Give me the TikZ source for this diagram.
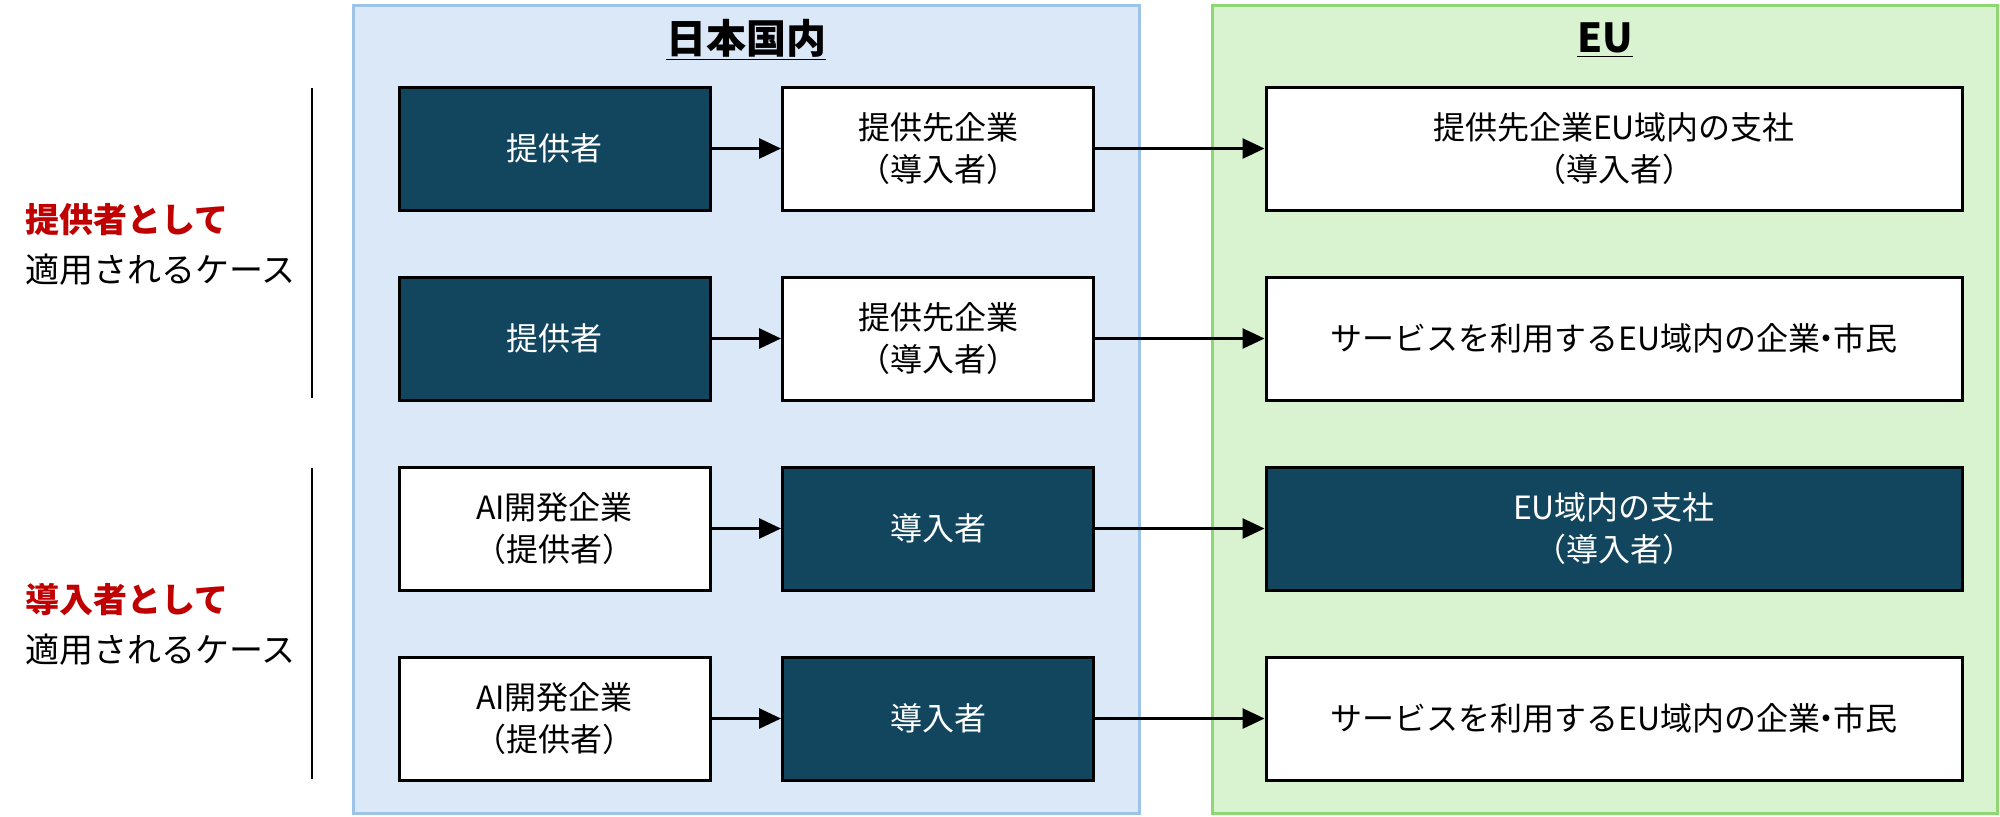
\documentclass[tikz,border=0pt]{standalone}
\usepackage{fontspec}
\setmainfont{Noto Sans CJK JP}
\usetikzlibrary{arrows.meta}
\definecolor{dk}{HTML}{12465E}
\definecolor{bluefill}{HTML}{DAE8F7}
\definecolor{blueline}{HTML}{9DC3E6}
\definecolor{greenfill}{HTML}{D9F2D0}
\definecolor{greenline}{HTML}{8ED873}
\definecolor{redtxt}{HTML}{C00000}
\newcommand{\mydot}{\kern-0.3em・\kern-0.3em}
\begin{document}
\begin{tikzpicture}[x=0.5pt,y=-0.5pt,
  box/.style={draw=black,line width=1.5pt,minimum height=61.5pt,inner sep=0pt,align=center,font=\fontsize{16}{21}\selectfont},
  smallbox/.style={box,minimum width=155.5pt},
  widebox/.style={box,minimum width=348pt},
  dkfill/.style={fill=dk,text=white},
  wfill/.style={fill=white,text=black},
  arr/.style={-{Triangle[length=11pt,width=10pt]},line width=1.4pt},
  panel/.style={line width=1.5pt},
  ptitle/.style={font=\fontsize{20}{24}\selectfont\bfseries,inner sep=0pt},
  side/.style={anchor=west,align=left,inner sep=0pt,font=\fontsize{17}{25}\selectfont},
  sep/.style={line width=0.7pt}]
\useasboundingbox (0,0) rectangle (2000,816);
% panels
\draw[panel,fill=bluefill,draw=blueline] (353,5) rectangle (1139,813);
\draw[panel,fill=greenfill,draw=greenline] (1212,5) rectangle (1997,813);
\node[ptitle] (tjp) at (746,40) {\underline{日本国内}};
\node[ptitle] (teu) at (1605,40) {\underline{EU}};
% side labels
\node[side] (l1) at (25,244) {{\color{redtxt}\bfseries 提供者として}\\適用されるケース};
\node[side] (l2) at (25,624) {{\color{redtxt}\bfseries 導入者として}\\適用されるケース};
\draw[sep] (312,88) -- (312,398);
\draw[sep] (312,468) -- (312,779);
% row 1
\node[smallbox,dkfill] (a1) at (554.5,148.5) {提供者};
\node[smallbox,wfill] (b1) at (938,148.5) {提供先企業\\（導入者）};
\node[widebox,wfill] (c1) at (1614,148.5) {提供先企業EU域内の支社\\（導入者）};
% row 2
\node[smallbox,dkfill] (a2) at (554.5,338.5) {提供者};
\node[smallbox,wfill] (b2) at (938,338.5) {提供先企業\\（導入者）};
\node[widebox,wfill] (c2) at (1614,338.5) {サービスを利用するEU域内の企業\mydot 市民};
% row 3
\node[smallbox,wfill] (a3) at (554.5,528.5) {AI開発企業\\（提供者）};
\node[smallbox,dkfill] (b3) at (938,528.5) {導入者};
\node[widebox,dkfill] (c3) at (1614,528.5) {EU域内の支社\\（導入者）};
% row 4
\node[smallbox,wfill] (a4) at (554.5,718.5) {AI開発企業\\（提供者）};
\node[smallbox,dkfill] (b4) at (938,718.5) {導入者};
\node[widebox,wfill] (c4) at (1614,718.5) {サービスを利用するEU域内の企業\mydot 市民};
% arrows
\foreach \i in {1,2,3,4}{
  \draw[arr] (a\i) -- (b\i);
  \draw[arr] (b\i) -- (c\i);
}
\end{tikzpicture}
\end{document}
